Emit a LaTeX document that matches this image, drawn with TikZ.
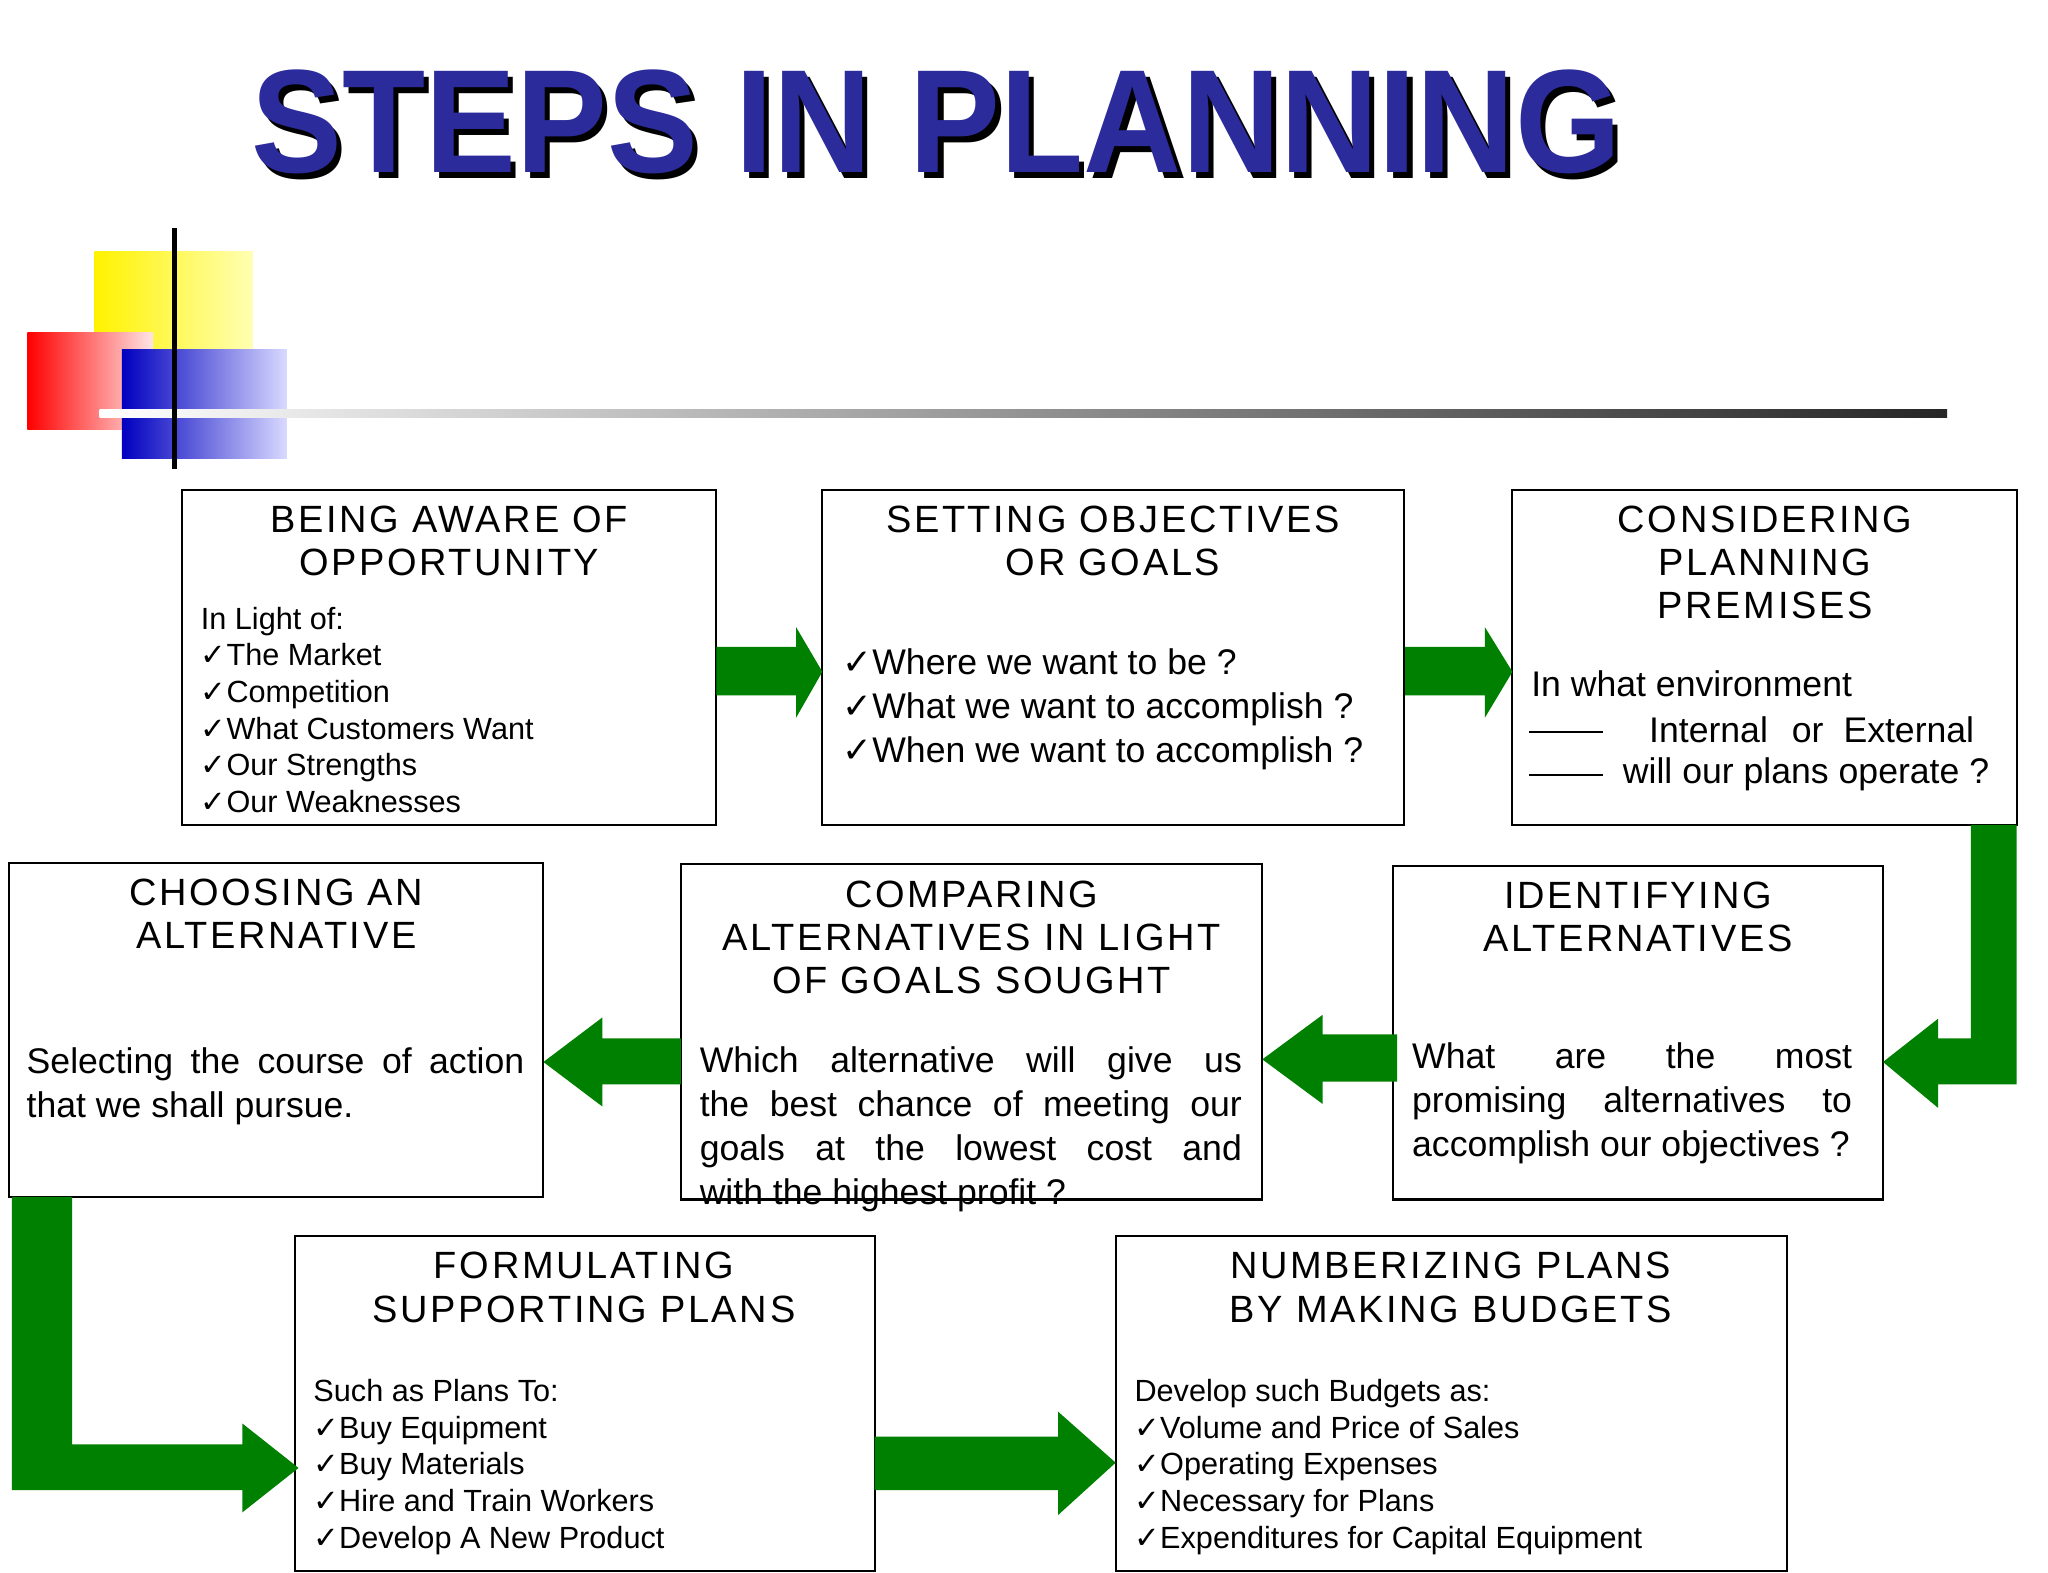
\documentclass[tikz,border=0pt]{standalone}
\usepackage{fontspec}
\setmainfont{Liberation Sans}
\newfontfamily\hdfont[LetterSpace=7]{Liberation Sans}
\newfontfamily\ckfont{DejaVu Sans}
\newcommand{\ck}{{\ckfont\char"2713}}
\usetikzlibrary{positioning}
\definecolor{grn}{RGB}{0,128,0}
\definecolor{ttl}{RGB}{43,43,155}
\tikzset{
  box/.style={draw=black,line width=0.8pt},
  hd/.style={font=\hdfont\fontsize{14.5}{16.5}\selectfont,align=center,anchor=north,inner sep=0pt},
  body/.style={font=\fontsize{11.7}{14}\selectfont,align=left,anchor=north west,inner sep=0pt},
  bodyj/.style={font=\fontsize{13.6}{16.8}\selectfont,align=justify,anchor=north west,inner sep=0pt,execute at begin node={\hyphenpenalty=10000\relax}},
  arr/.style={fill=grn,draw=none}
}
\begin{document}
\begin{tikzpicture}[x=0.5pt,y=-0.5pt]
\useasboundingbox (0,0) rectangle (1564,1201);
% title
\node[font=\fontsize{52}{60}\selectfont\bfseries,text=black,anchor=base,yscale=1.08] at (719,136) {STEPS IN PLANNING};
\node[font=\fontsize{52}{60}\selectfont\bfseries,text=ttl,anchor=base,yscale=1.08] (title) at (715,132) {STEPS IN PLANNING};
% decoration
\shade[left color=yellow!90!orange,right color=yellow!30] (72,192) rectangle (193,268);
\shade[left color=red,right color=red!10] (21,254) rectangle (117,328);
\shade[left color=blue!75!black,right color=blue!15] (93,267) rectangle (219,350);
\shade[left color=white,right color=black!85] (76,313) rectangle (1487,319);
\draw[line width=2pt] (133,174) -- (133,358);
% boxes
\draw[box] (139,374) rectangle (547,630);
\draw[box] (628,374) rectangle (1072,630);
\draw[box] (1155,374) rectangle (1540,630);
\draw[box] (7,659) rectangle (415,914);
\draw[box] (520,660) rectangle (964,916);
\draw[box] (1064,661) rectangle (1438,916);
\draw[box] (225,944) rectangle (668,1200);
\draw[box] (852,944) rectangle (1365,1200);
% headings
\node[hd] (h1) at (343,386) {BEING AWARE OF\\OPPORTUNITY};
\node[hd] (h2) at (850,386) {SETTING OBJECTIVES\\OR GOALS};
\node[hd] (h3) at (1348,386) {CONSIDERING\\PLANNING\\PREMISES};
\node[hd] (h4) at (211,671) {CHOOSING AN\\ALTERNATIVE};
\node[hd] (h5) at (742,672) {COMPARING\\ALTERNATIVES IN LIGHT\\OF GOALS SOUGHT};
\node[hd] (h6) at (1251,673) {IDENTIFYING\\ALTERNATIVES};
\node[hd] (h7) at (446,956) {FORMULATING\\SUPPORTING PLANS};
\node[hd] (h8) at (1108,956) {NUMBERIZING PLANS\\BY MAKING BUDGETS};
% bodies
\node[body] (t1) at (153,463) {In Light of:\\\ck The Market\\\ck Competition\\\ck What Customers Want\\\ck Our Strengths\\\ck Our Weaknesses};
\node[bodyj,align=left] (t2) at (643,495) {\ck Where we want to be ?\\\ck What we want to accomplish ?\\\ck When we want to accomplish ?};
\node[bodyj,align=left] (t3) at (1169,512) {In what environment};
\node[bodyj,align=left,anchor=base west] (t3b) at (1259,567) {Internal};
\node[bodyj,align=left,anchor=base west] (t3or) at (1368,567) {or};
\node[bodyj,align=left,anchor=base east] (t3e) at (1508,567) {External};
\node[bodyj,align=left] (t3c) at (1239,578) {will our plans operate ?};
\draw[line width=0.7pt] (1168,559) -- (1224,559);
\draw[line width=0.7pt] (1168,592) -- (1224,592);
\node[bodyj,text width=190pt] (t4) at (20,800) {Selecting the course of action\linebreak that we shall pursue.};
\node[bodyj,text width=207pt] (t5) at (534,799) {Which alternative will give us\linebreak the best chance of meeting our\linebreak goals at the lowest cost and\linebreak with the highest profit ?};
\node[bodyj,text width=168pt] (t6) at (1078,796) {What are the most\linebreak promising alternatives to\linebreak accomplish our objectives ?};
\node[body] (t7) at (239,1053) {Such as Plans To:\\\ck Buy Equipment\\\ck Buy Materials\\\ck Hire and Train Workers\\\ck Develop A New Product};
\node[body] (t8) at (866,1053) {Develop such Budgets as:\\\ck Volume and Price of Sales\\\ck Operating Expenses\\\ck Necessary for Plans\\\ck Expenditures for Capital Equipment};
% arrows
\fill[arr] (547,494) -- (608,494) -- (608,479) -- (628,513) -- (608,548) -- (608,531) -- (547,531) -- cycle;
\fill[arr] (1073,494) -- (1134,494) -- (1134,479) -- (1155,513) -- (1134,548) -- (1134,531) -- (1073,531) -- cycle;
\fill[arr] (1505,630) -- (1540,630) -- (1540,828) -- (1480,828) -- (1480,846) -- (1438,811) -- (1480,778) -- (1480,793) -- (1505,793) -- cycle;
\fill[arr] (1067,790) -- (1010,790) -- (1010,775) -- (964,809) -- (1010,843) -- (1010,826) -- (1067,826) -- cycle;
\fill[arr] (520,793) -- (460,793) -- (460,777) -- (415,811) -- (460,845) -- (460,828) -- (520,828) -- cycle;
\fill[arr] (9,914) -- (55,914) -- (55,1103) -- (185,1103) -- (185,1087) -- (228,1121) -- (185,1155) -- (185,1138) -- (9,1138) -- cycle;
\fill[arr] (668,1097) -- (808,1097) -- (808,1078) -- (852,1117) -- (808,1157) -- (808,1138) -- (668,1138) -- cycle;
\end{tikzpicture}
\end{document}
